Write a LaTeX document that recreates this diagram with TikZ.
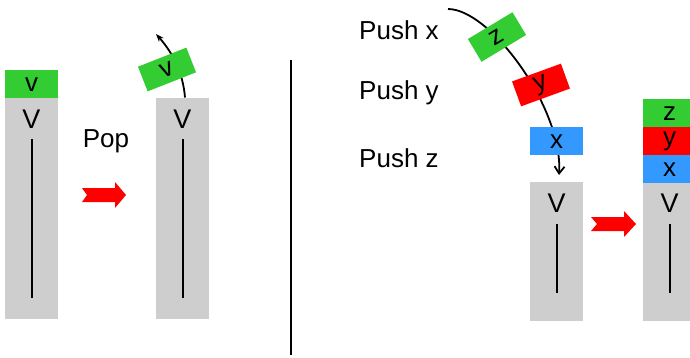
\documentclass[tikz,border=0pt]{standalone}
\usepackage{fontspec}
\setmainfont{Liberation Sans}
\usetikzlibrary{arrows.meta}
\definecolor{sgray}{RGB}{206,206,206}
\definecolor{sgreen}{RGB}{51,204,51}
\definecolor{sred}{RGB}{255,0,0}
\definecolor{sblue}{RGB}{51,153,255}
\tikzset{
  cell/.style={anchor=north west, inner sep=0pt, minimum width=53pt, minimum height=28pt, font=\fontsize{26}{28}\selectfont},
  stackbox/.style={anchor=north west, inner sep=0pt, minimum width=53pt, fill=sgray},
  tile/.style={inner sep=0pt, minimum width=52pt, minimum height=26.5pt, font=\fontsize{26}{28}\selectfont},
  bigV/.style={inner sep=0pt, font=\fontsize{27}{29}\selectfont},
  lbl/.style={inner sep=0pt, anchor=west, font=\fontsize{26}{30}\selectfont},
  stem/.style={line width=2pt},
  curve/.style={line width=1.8pt},
  blockarrow/.style={fill=sred}
}
\begin{document}
\begin{tikzpicture}[x=1pt,y=-1pt]
\useasboundingbox (0,0) rectangle (690,357);
% ---- Left: Pop ----
\node[stackbox, minimum height=221pt] (s1) at (5,97.5) {};
\node[cell, fill=sgreen] (v1) at (5,70) {v};
\node[bigV] (V1) at (31.5,119) {V};
\coordinate (s1t) at (31.5,139);
\coordinate (s1b) at (31.5,298);
\draw[stem] (s1t) -- (s1b);
\node[inner sep=0pt, font=\fontsize{26}{30}\selectfont] (pop) at (106,141) {Pop};
\path[blockarrow] (82,188) -- (115,188) -- (115,182) -- (126,195) -- (115,208) -- (115,202) -- (82,202) -- (87,195) -- cycle;
\node[stackbox, minimum height=221pt] (s2) at (156,97.5) {};
\node[bigV] (V2) at (182.5,119) {V};
\coordinate (s2t) at (182.5,139);
\coordinate (s2b) at (182.5,298);
\draw[stem] (s2t) -- (s2b);
\coordinate (popstart) at (185,97.5);
\coordinate (popend) at (156,34);
\draw[curve, -{Stealth[length=8pt,width=6pt]}] (popstart) .. controls (183,72) and (172,52) .. (popend);
\node[tile, fill=sgreen, rotate=21.5] (v2) at (167,69.5) {v};
% ---- divider ----
\coordinate (d1) at (291,60);
\coordinate (d2) at (291,355);
\draw[line width=2pt] (d1) -- (d2);
% ---- Right: Push ----
\node[lbl] (px) at (359,30) {Push x};
\node[lbl] (py) at (359,93) {Push y};
\node[lbl] (pz) at (359,158) {Push z};
\coordinate (pushstart) at (448,9);
\coordinate (pushend) at (559,175);
\draw[curve, -{Straight Barb[length=7pt,width=10pt]}] (pushstart) .. controls (490,9) and (563,108) .. (pushend);
\node[tile, fill=sgreen, rotate=31] (z1) at (497,37) {z};
\node[tile, fill=sred, rotate=20] (y1) at (541,85) {y};
\node[cell, fill=sblue] (x1) at (530,127) {x};
\node[stackbox, minimum height=139pt] (s3) at (530,182) {};
\node[bigV] (V3) at (556.5,203) {V};
\coordinate (s3t) at (556.5,224);
\coordinate (s3b) at (556.5,293);
\draw[stem] (s3t) -- (s3b);
\path[blockarrow] (591,217) -- (624,217) -- (624,211) -- (636,224) -- (624,237) -- (624,231) -- (591,231) -- (597,224) -- cycle;
\node[stackbox, minimum height=138pt] (s4) at (643,183) {};
\node[cell, fill=sgreen] (z2) at (643,99) {z};
\node[cell, fill=sred] (y2) at (643,127) {y};
\node[cell, fill=sblue] (x2) at (643,155) {x};
\node[bigV] (V4) at (669.5,203) {V};
\coordinate (s4t) at (669.5,224);
\coordinate (s4b) at (669.5,293);
\draw[stem] (s4t) -- (s4b);
\end{tikzpicture}
\end{document}
